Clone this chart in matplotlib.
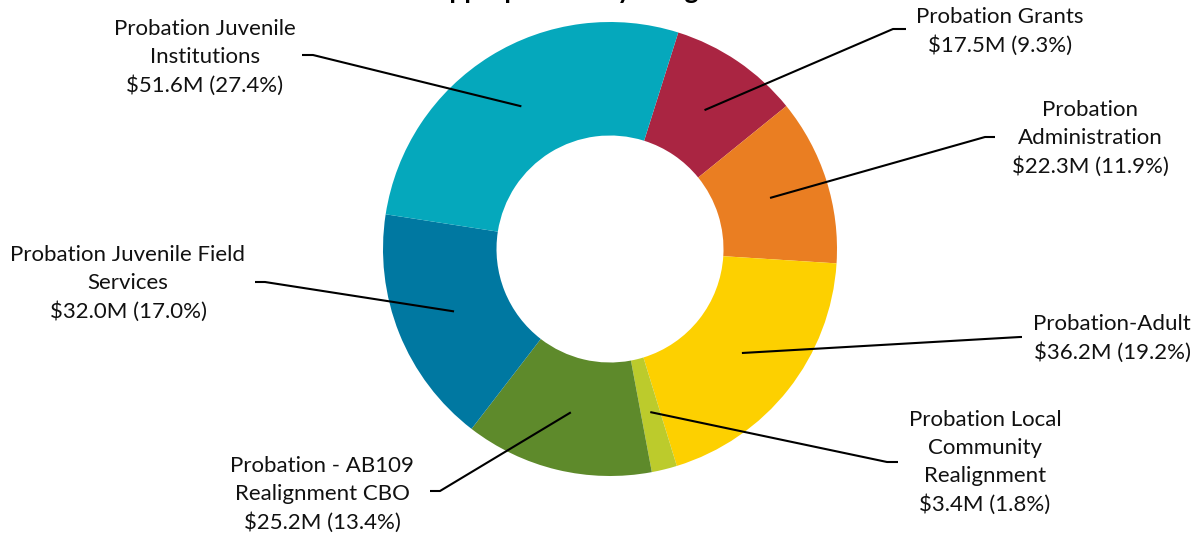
import numpy as np
import matplotlib
matplotlib.use('Agg')
import matplotlib.pyplot as plt

plt.rcParams['font.family'] = ['Lato', 'DejaVu Sans']

# data
unidades = ['Probation Grants', 'Probation\nAdministration', 'Probation-Adult',
            'Probation Local\nCommunity\nRealignment', 'Probation - AB109\nRealignment CBO',
            'Probation Juvenile Field\nServices', 'Probation Juvenile\nInstitutions']
montos = [17.5, 22.3, 36.2, 3.4, 25.2, 32.0, 51.6]   # $M
pcts = [9.3, 11.9, 19.2, 1.8, 13.4, 17.0, 27.4]
colores = ['#AA2542', '#EA7E22', '#FDD000', '#BCCB2C', '#5E8A2B', '#0078A1', '#05A8BC']

# layout (pixels, y from top): text centre, leader elbow, leader end
W, H = 1202, 535
CX, CY, R = 610, 249, 227
pos_texto = [(1000, 31), (1090, 138), (1112, 338), (985, 462), (322, 494), (128, 283), (205, 57)]
codo = [(893, 29), (985, 137), (1020, 337), (887, 462), (440, 491), (265, 282), (313, 55)]
fin = [(906, 29), (995, 137), (1022, 337), (898, 462), (430, 491), (255, 282), (302, 55)]


def px(x, y):
    return (x - CX) / R, (CY - y) / R


fig = plt.figure(figsize=(W / 100, H / 100), dpi=100)
ax = fig.add_axes([0, 0, 1, 1])

inicio = 90 - 17.5
wedges, _ = ax.pie(montos, colors=colores, startangle=inicio, counterclock=False,
                   radius=1, wedgeprops=dict(width=0.5, linewidth=0))
ax.set_aspect('auto')
ax.set_xlim(-CX / R, (W - CX) / R)
ax.set_ylim(-(H - CY) / R, CY / R)
ax.axis('off')

for i, w in enumerate(wedges):
    ang = np.deg2rad((w.theta1 + w.theta2) / 2)
    ax0, ay0 = 0.74 * np.cos(ang), 0.74 * np.sin(ang)
    ex, ey = px(*codo[i])
    fx, fy = px(*fin[i])
    ax.plot([ax0, ex, fx], [ay0, ey, fy], color='black', lw=1.5, solid_capstyle='butt')
    tx, ty = px(*pos_texto[i])
    etiqueta = f'{unidades[i]}\n${montos[i]:.1f}M ({pcts[i]:.1f}%)'
    ax.text(tx, ty, etiqueta, ha='center', va='center', fontsize=16,
            linespacing=1.5, color='#111111')

# titulo recortado por el borde superior, como en el original
tx, ty = px(605, -1)
ax.text(tx, ty, 'Appropriation by Budget Unit', ha='center', va='baseline',
        fontsize=19, fontweight='bold')

fig.savefig('out.png', dpi=100)
